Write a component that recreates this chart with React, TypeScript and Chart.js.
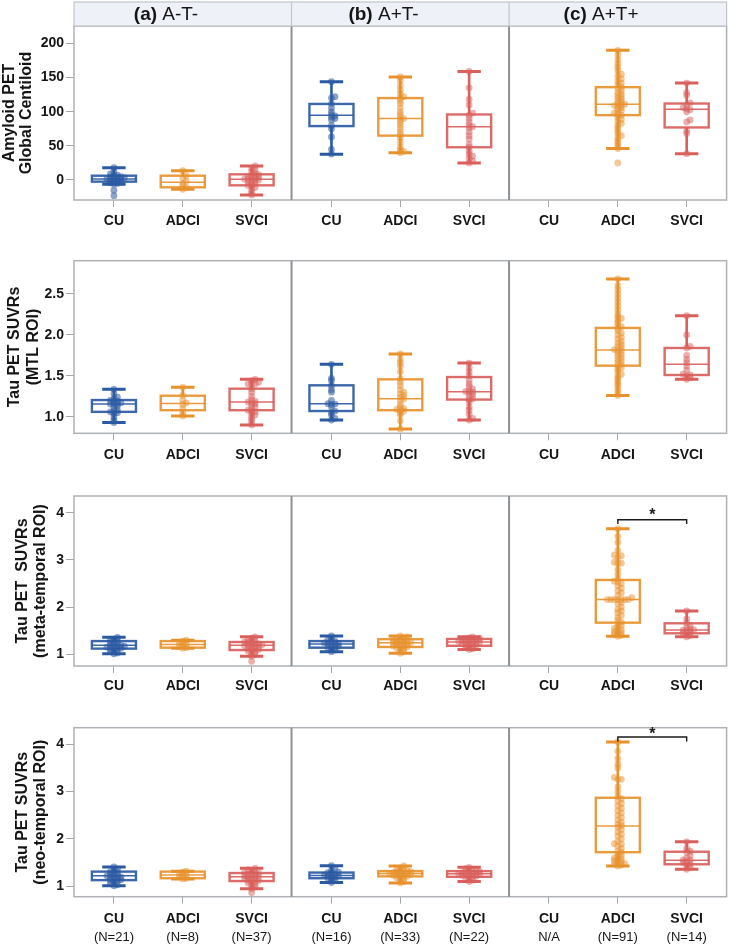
import { useEffect, useRef } from "react";
import { Chart, registerables } from "chart.js";

Chart.register(...registerables);

const FONT = "'Liberation Sans', Arial, Helvetica, sans-serif";
const INK = "#151515";

const categories = ["CU", "ADCI", "SVCI"];
const panelLetters = ["(a)", "(b)", "(c)"];
const panelGroups = ["A-T-", "A+T-", "A+T+"];
const sampleSizes = ["(N=21)", "(N=8)", "(N=37)", "(N=16)", "(N=33)", "(N=22)", "N/A", "(N=91)", "(N=14)"];

// [panel, category] slot of each plotted group (no CU group in panel c)
const groupSlots = [[0, 0], [0, 1], [0, 2], [1, 0], [1, 1], [1, 2], [2, 1], [2, 2]];

// ---- Amyloid PET, global centiloid ----
// box summaries: [lower whisker, Q1, median, Q3, upper whisker]
const centiloidBoxes = [
  [-6.3, -2.4, 1.5, 6.3, 18], [-13.7, -10.7, -3.4, 6.3, 13.7], [-22, -7.8, 1, 8.3, 20.5],
  [37.6, 79, 94.8, 111.4, 144], [40, 65, 90, 120, 151], [25, 48, 78, 96, 159],
  [46, 95, 111, 136, 190], [38.5, 77, 103.5, 112, 142],
];
const centiloidA_CU = [18, 12, 9, 7, 6, 5, 4, 3, 3, 2, 1.5, 1, 0, -1, -2, -3, -4, -5, -6, -15, -23];
const centiloidA_ADCI = [13.7, 6, 3, -2, -5, -9, -11, -13.7];
const centiloidA_SVCI = [20.5, 17, 15, 12, 10, 8, 7, 6, 5, 4, 3, 2, 1.5, 1, 0, -1, -2, -3, -5, -6, -8, -9, -11, -14, -18, -22];
const centiloidB_CU = [144, 122, 120, 112, 106, 100, 96, 94, 92, 90, 88, 80, 75, 63, 45, 38];
const centiloidB_ADCI = [151, 145, 138, 132, 126, 122, 120, 116, 112, 106, 100, 96, 92, 90, 88, 84, 80, 75, 70, 66, 62, 55, 48, 44, 42, 40];
const centiloidB_SVCI = [159, 135, 118, 110, 98, 95, 90, 85, 80, 78, 76, 70, 65, 60, 52, 48, 42, 38, 35, 32, 28, 25];
const centiloidC_ADCI = [190, 183, 176, 170, 165, 160, 155, 152, 148, 145, 142, 139, 136, 134, 131, 128, 126, 124, 122, 120, 118, 116, 114, 112, 111, 110, 109, 108, 106, 104, 102, 100, 98, 96, 95, 92, 89, 86, 83, 80, 76, 72, 68, 65, 62, 58, 54, 50, 46, 25];
const centiloidC_SVCI = [142, 128, 124, 113, 110, 106, 104, 103, 100, 88, 85, 72, 68, 38.5];

// ---- Tau PET SUVR, MTL ROI ----
const mtlBoxes = [
  [0.93, 1.06, 1.155, 1.204, 1.335], [1.008, 1.08, 1.163, 1.257, 1.36], [0.9, 1.08, 1.18, 1.343, 1.457],
  [0.96, 1.07, 1.159, 1.384, 1.64], [0.85, 1.08, 1.22, 1.457, 1.767], [0.96, 1.21, 1.306, 1.485, 1.656],
  [1.26, 1.624, 1.815, 2.085, 2.683], [1.457, 1.51, 1.64, 1.84, 2.235],
];
const mtlA_CU = [1.335, 1.28, 1.24, 1.22, 1.2, 1.19, 1.18, 1.17, 1.16, 1.155, 1.15, 1.13, 1.11, 1.08, 1.07, 1.06, 1.05, 1.04, 1.0, 0.96, 0.93];
const mtlA_ADCI = [1.36, 1.26, 1.2, 1.17, 1.15, 1.1, 1.05, 1.008];
const mtlA_SVCI = [1.457, 1.44, 1.42, 1.4, 1.4, 1.4, 1.34, 1.3, 1.25, 1.21, 1.19, 1.18, 1.17, 1.16, 1.14, 1.12, 1.1, 1.08, 1.07, 1.06, 1.04, 1.02, 1.0, 0.97, 0.94, 0.9];
const mtlB_CU = [1.64, 1.47, 1.44, 1.38, 1.33, 1.3, 1.2, 1.16, 1.155, 1.15, 1.12, 1.07, 1.05, 1.02, 0.98, 0.96];
const mtlB_ADCI = [1.767, 1.7, 1.66, 1.62, 1.55, 1.46, 1.42, 1.38, 1.33, 1.3, 1.28, 1.26, 1.24, 1.22, 1.2, 1.15, 1.12, 1.1, 1.09, 1.08, 1.07, 1.05, 1.02, 0.95, 0.85];
const mtlB_SVCI = [1.656, 1.6, 1.55, 1.5, 1.45, 1.4, 1.37, 1.34, 1.32, 1.31, 1.3, 1.29, 1.27, 1.25, 1.22, 1.21, 1.18, 1.12, 1.08, 1.03, 0.98, 0.96];
const mtlC_ADCI = [2.683, 2.6, 2.55, 2.5, 2.45, 2.4, 2.35, 2.3, 2.25, 2.22, 2.2, 2.18, 2.15, 2.12, 2.1, 2.08, 2.05, 2.02, 2.0, 1.97, 1.95, 1.92, 1.9, 1.88, 1.86, 1.84, 1.82, 1.815, 1.8, 1.78, 1.76, 1.74, 1.72, 1.7, 1.68, 1.66, 1.64, 1.62, 1.6, 1.58, 1.55, 1.52, 1.5, 1.47, 1.44, 1.41, 1.38, 1.34, 1.3, 1.26];
const mtlC_SVCI = [2.235, 2.0, 1.86, 1.84, 1.75, 1.7, 1.66, 1.62, 1.57, 1.52, 1.51, 1.5, 1.48, 1.457];

// ---- Tau PET SUVR, meta-temporal ROI ----
const metaBoxes = [
  [1.01, 1.12, 1.19, 1.28, 1.36], [1.13, 1.14, 1.21, 1.28, 1.3], [0.96, 1.09, 1.19, 1.26, 1.37],
  [1.055, 1.14, 1.22, 1.28, 1.39], [1.02, 1.155, 1.245, 1.32, 1.39], [1.1, 1.18, 1.26, 1.325, 1.37],
  [1.38, 1.67, 2.16, 2.575, 3.66], [1.37, 1.445, 1.515, 1.657, 1.92],
];
const metaA_CU = [1.36, 1.32, 1.3, 1.28, 1.26, 1.24, 1.22, 1.2, 1.19, 1.18, 1.17, 1.16, 1.15, 1.14, 1.13, 1.12, 1.1, 1.08, 1.06, 1.03, 1.01];
const metaA_ADCI = [1.3, 1.28, 1.25, 1.22, 1.2, 1.17, 1.14, 1.13];
const metaA_SVCI = [1.37, 1.34, 1.31, 1.29, 1.27, 1.26, 1.25, 1.23, 1.22, 1.21, 1.2, 1.19, 1.18, 1.17, 1.16, 1.15, 1.13, 1.11, 1.1, 1.09, 1.07, 1.05, 1.02, 0.99, 0.96, 0.85];
const metaB_CU = [1.39, 1.33, 1.3, 1.28, 1.26, 1.24, 1.23, 1.22, 1.21, 1.19, 1.17, 1.15, 1.14, 1.12, 1.09, 1.055];
const metaB_ADCI = [1.39, 1.37, 1.35, 1.33, 1.32, 1.3, 1.29, 1.28, 1.27, 1.26, 1.25, 1.24, 1.23, 1.22, 1.21, 1.2, 1.18, 1.17, 1.16, 1.15, 1.13, 1.11, 1.08, 1.05, 1.02];
const metaB_SVCI = [1.37, 1.35, 1.33, 1.32, 1.31, 1.3, 1.29, 1.28, 1.27, 1.26, 1.26, 1.25, 1.24, 1.23, 1.22, 1.2, 1.19, 1.18, 1.16, 1.14, 1.12, 1.1];
const metaC_ADCI = [3.66, 3.5, 3.37, 3.2, 3.1, 3.09, 3.05, 2.95, 2.93, 2.93, 2.8, 2.7, 2.6, 2.55, 2.53, 2.5, 2.45, 2.4, 2.35, 2.3, 2.25, 2.2, 2.16, 2.16, 2.16, 2.16, 2.16, 2.16, 2.16, 2.1, 2.07, 2.0, 1.95, 1.92, 1.88, 1.82, 1.78, 1.72, 1.68, 1.64, 1.61, 1.58, 1.55, 1.52, 1.5, 1.48, 1.46, 1.44, 1.42, 1.4, 1.38];
const metaC_SVCI = [1.92, 1.75, 1.66, 1.6, 1.56, 1.53, 1.52, 1.51, 1.5, 1.47, 1.45, 1.43, 1.4, 1.37];
// significance bracket: [bar level, leg ends, star level]
const metaBracket = [3.85, 3.76, 4.0];

// ---- Tau PET SUVR, neo-temporal ROI ----
const neoBoxes = [
  [1.01, 1.13, 1.22, 1.31, 1.41], [1.155, 1.17, 1.24, 1.31, 1.32], [0.95, 1.11, 1.2, 1.28, 1.38],
  [1.08, 1.17, 1.23, 1.29, 1.435], [1.07, 1.21, 1.27, 1.32, 1.43], [1.1, 1.2, 1.265, 1.32, 1.4],
  [1.43, 1.72, 2.275, 2.87, 4.05], [1.36, 1.465, 1.55, 1.73, 1.94],
];
const neoA_CU = [1.41, 1.36, 1.33, 1.31, 1.29, 1.27, 1.25, 1.23, 1.22, 1.21, 1.2, 1.19, 1.17, 1.15, 1.14, 1.13, 1.11, 1.09, 1.06, 1.03, 1.01];
const neoA_ADCI = [1.32, 1.3, 1.27, 1.25, 1.23, 1.2, 1.17, 1.155];
const neoA_SVCI = [1.38, 1.35, 1.33, 1.31, 1.29, 1.28, 1.27, 1.25, 1.24, 1.22, 1.21, 1.2, 1.19, 1.18, 1.16, 1.15, 1.13, 1.12, 1.11, 1.09, 1.07, 1.05, 1.02, 0.99, 0.95, 0.865];
const neoB_CU = [1.435, 1.38, 1.33, 1.3, 1.29, 1.27, 1.25, 1.24, 1.23, 1.22, 1.21, 1.19, 1.17, 1.15, 1.12, 1.08];
const neoB_ADCI = [1.43, 1.39, 1.36, 1.34, 1.33, 1.32, 1.31, 1.3, 1.29, 1.28, 1.27, 1.27, 1.26, 1.25, 1.24, 1.23, 1.22, 1.21, 1.2, 1.18, 1.16, 1.13, 1.1, 1.07];
const neoB_SVCI = [1.4, 1.37, 1.34, 1.33, 1.32, 1.31, 1.3, 1.29, 1.28, 1.27, 1.265, 1.26, 1.25, 1.24, 1.23, 1.22, 1.21, 1.2, 1.18, 1.16, 1.13, 1.1];
const neoC_ADCI = [4.05, 3.85, 3.7, 3.58, 3.5, 3.3, 3.26, 3.26, 3.1, 3.0, 2.9, 2.85, 2.8, 2.75, 2.7, 2.65, 2.6, 2.55, 2.5, 2.45, 2.4, 2.35, 2.31, 2.28, 2.25, 2.2, 2.15, 2.1, 2.06, 2.0, 1.95, 1.9, 1.89, 1.85, 1.8, 1.75, 1.72, 1.68, 1.65, 1.62, 1.6, 1.58, 1.56, 1.54, 1.52, 1.5, 1.48, 1.47, 1.45, 1.43];
const neoC_SVCI = [1.94, 1.8, 1.74, 1.72, 1.65, 1.6, 1.56, 1.55, 1.52, 1.5, 1.47, 1.45, 1.4, 1.36];
const neoBracket = [4.155, 4.06, 4.26];

const categoryColors = [
  { line: "#2b5aa3", point: "rgba(43,90,163,0.55)" },
  { line: "#e8922e", point: "rgba(232,146,46,0.5)" },
  { line: "#d9605c", point: "rgba(217,96,92,0.5)" },
];

// horizontal layout of the shared category axis
const PANEL_SPAN = 3.16;
const X_MIN = -0.58;
const X_MAX = X_MIN + 3 * PANEL_SPAN;
const CANVAS_W = 730;
const AXIS_W = 74;
const PAD_RIGHT = 2;
const PX_PER_X = (CANVAS_W - AXIS_W - PAD_RIGHT) / (X_MAX - X_MIN);
const tickPositions = [0, 1, 2].flatMap((p) => [0, 1, 2].map((c) => p * PANEL_SPAN + c));
const BOX_HALF = 0.32;
const CAP_HALF = 0.17;

type RowSpec = {
  title: string[];
  yMin: number;
  yMax: number;
  yTicks: number[];
  decimals: number;
  boxes: number[][];
  points: number[][];
  bracket: number[] | null;
  top: number;
  height: number;
  padTop: number;
  axisH: number;
  sizeAxisH: number;
  labelPad: number;
  titlePad: number;
  titleLine: number;
  header: boolean;
};

const rows: RowSpec[] = [
  {
    title: ["Amyloid PET", "Global Centiloid"], yMin: -29.3, yMax: 225.6, yTicks: [0, 50, 100, 150, 200], decimals: 0,
    boxes: centiloidBoxes,
    points: [centiloidA_CU, centiloidA_ADCI, centiloidA_SVCI, centiloidB_CU, centiloidB_ADCI, centiloidB_SVCI, centiloidC_ADCI, centiloidC_SVCI],
    bracket: null, top: 0, height: 230, padTop: 26, axisH: 30, sizeAxisH: 0, labelPad: 6, titlePad: 0.5, titleLine: 1.08, header: true,
  },
  {
    title: ["Tau PET SUVRs", "(MTL ROI)"], yMin: 0.798, yMax: 2.906, yTicks: [1.0, 1.5, 2.0, 2.5], decimals: 1,
    boxes: mtlBoxes,
    points: [mtlA_CU, mtlA_ADCI, mtlA_SVCI, mtlB_CU, mtlB_ADCI, mtlB_SVCI, mtlC_ADCI, mtlC_SVCI],
    bracket: null, top: 230, height: 230, padTop: 30.7, axisH: 26.7, sizeAxisH: 0, labelPad: 6, titlePad: 5, titleLine: 1.18, header: false,
  },
  {
    title: ["Tau PET  SUVRs", "(meta-temporal ROI)"], yMin: 0.752, yMax: 4.354, yTicks: [1, 2, 3, 4], decimals: 0,
    boxes: metaBoxes,
    points: [metaA_CU, metaA_ADCI, metaA_SVCI, metaB_CU, metaB_ADCI, metaB_SVCI, metaC_ADCI, metaC_SVCI],
    bracket: metaBracket, top: 460, height: 230, padTop: 36, axisH: 24, sizeAxisH: 0, labelPad: 5, titlePad: 13.5, titleLine: 1.13, header: false,
  },
  {
    title: ["Tau PET SUVRs", "(neo-temporal ROI)"], yMin: 0.78, yMax: 4.35, yTicks: [1, 2, 3, 4], decimals: 0,
    boxes: neoBoxes,
    points: [neoA_CU, neoA_ADCI, neoA_SVCI, neoB_CU, neoB_ADCI, neoB_SVCI, neoC_ADCI, neoC_SVCI],
    bracket: neoBracket, top: 690, height: 255, padTop: 37.7, axisH: 26, sizeAxisH: 22.3, labelPad: 7, titlePad: 13.2, titleLine: 1.13, header: false,
  },
];

// Deterministic beeswarm: points that would sit almost on top of each other are nudged sideways.
const SWARM_GAP = 2.4;
const SWARM_STEP = 3.5;
function swarm(values: number[], pxPerY: number, center: number) {
  const order = values.map((_, i) => i).sort((a, b) => values[a] - values[b]);
  const placed: { x: number; y: number }[] = [];
  const out: { x: number; y: number }[] = new Array(values.length);
  for (const i of order) {
    const y = values[i] * pxPerY;
    let dx = 0;
    for (let step = 0; step < 40; step++) {
      dx = step === 0 ? 0 : (step % 2 ? 1 : -1) * Math.ceil(step / 2) * SWARM_STEP;
      const free = placed.every((p) => (p.x - dx) ** 2 + (p.y - y) ** 2 >= SWARM_GAP ** 2);
      if (free) break;
    }
    placed.push({ x: dx, y });
    out[i] = { x: center + dx / PX_PER_X, y: values[i] };
  }
  return out;
}

function makeRowPlugin(row: RowSpec) {
  return {
    id: "panelDecor",
    beforeDatasetsDraw(chart: any) {
      const { ctx } = chart;
      const xs = chart.scales.x;
      const ys = chart.scales.y;
      ctx.save();
      row.boxes.forEach((b, g) => {
        const [p, c] = groupSlots[g];
        const cx = p * PANEL_SPAN + c;
        const col = categoryColors[c].line;
        const xc = xs.getPixelForValue(cx);
        const xl = xs.getPixelForValue(cx - BOX_HALF);
        const xr = xs.getPixelForValue(cx + BOX_HALF);
        const cl = xs.getPixelForValue(cx - CAP_HALF);
        const cr = xs.getPixelForValue(cx + CAP_HALF);
        const [lo, q1, med, q3, hi] = b.map((v) => ys.getPixelForValue(v));
        ctx.strokeStyle = col;
        ctx.lineCap = "butt";
        // whiskers
        ctx.lineWidth = 2.6;
        ctx.beginPath();
        ctx.moveTo(xc, q1);
        ctx.lineTo(xc, lo);
        ctx.moveTo(xc, q3);
        ctx.lineTo(xc, hi);
        ctx.stroke();
        ctx.lineWidth = 3;
        ctx.beginPath();
        ctx.moveTo(cl, lo);
        ctx.lineTo(cr, lo);
        ctx.moveTo(cl, hi);
        ctx.lineTo(cr, hi);
        ctx.stroke();
        // box
        ctx.globalAlpha = 0.92;
        ctx.lineWidth = 2.4;
        ctx.strokeRect(xl, q3, xr - xl, q1 - q3);
        ctx.lineWidth = 1.5;
        ctx.beginPath();
        ctx.moveTo(xl, med);
        ctx.lineTo(xr, med);
        ctx.stroke();
        ctx.globalAlpha = 1;
      });
      ctx.restore();
    },
    afterDraw(chart: any) {
      const { ctx, chartArea } = chart;
      const xs = chart.scales.x;
      const ys = chart.scales.y;
      const { left, right, top, bottom } = chartArea;
      const dividers = [1, 2].map((k) => xs.getPixelForValue(X_MIN + k * PANEL_SPAN));
      ctx.save();
      // panel frames
      ctx.strokeStyle = "#aeb2b6";
      ctx.lineWidth = 1.5;
      ctx.strokeRect(left, top, right - left, bottom - top);
      ctx.strokeStyle = "#8d9195";
      ctx.lineWidth = 2;
      ctx.beginPath();
      dividers.forEach((d) => {
        ctx.moveTo(d, top);
        ctx.lineTo(d, bottom);
      });
      ctx.stroke();

      // facet header strip
      if (row.header) {
        const hTop = 2;
        ctx.fillStyle = "#eef1f8";
        ctx.fillRect(left, hTop, right - left, top - hTop);
        ctx.strokeStyle = "#c2c6ca";
        ctx.lineWidth = 1.2;
        ctx.strokeRect(left, hTop, right - left, top - hTop);
        ctx.beginPath();
        dividers.forEach((d) => {
          ctx.moveTo(d, hTop);
          ctx.lineTo(d, top);
        });
        ctx.stroke();
        const edges = [left, ...dividers];
        ctx.fillStyle = INK;
        ctx.textBaseline = "middle";
        ctx.textAlign = "left";
        panelLetters.forEach((letter, i) => {
          const boldFont = `bold 19px ${FONT}`;
          const plainFont = `19px ${FONT}`;
          ctx.font = boldFont;
          const w1 = ctx.measureText(letter + " ").width;
          ctx.font = plainFont;
          const w2 = ctx.measureText(panelGroups[i]).width;
          const start = edges[i] + 92 - (w1 + w2) / 2;
          ctx.font = boldFont;
          ctx.fillText(letter, start, 14.5);
          ctx.font = plainFont;
          ctx.fillText(panelGroups[i], start + w1, 14.5);
        });
      }

      // significance bracket between ADCI and SVCI of panel c
      if (row.bracket) {
        const [bar, leg, star] = row.bracket;
        const x1 = xs.getPixelForValue(2 * PANEL_SPAN + 1);
        const x2 = xs.getPixelForValue(2 * PANEL_SPAN + 2);
        const yb = ys.getPixelForValue(bar);
        const yl = ys.getPixelForValue(leg);
        ctx.strokeStyle = "#1a1a1a";
        ctx.lineWidth = 1.4;
        ctx.beginPath();
        ctx.moveTo(x1, yl);
        ctx.lineTo(x1, yb);
        ctx.lineTo(x2, yb);
        ctx.lineTo(x2, yl);
        ctx.stroke();
        ctx.fillStyle = "#1a1a1a";
        ctx.font = `bold 16px ${FONT}`;
        ctx.textAlign = "center";
        ctx.textBaseline = "middle";
        ctx.fillText("*", (x1 + x2) / 2, ys.getPixelForValue(star) + 3);
      }
      ctx.restore();
    },
  };
}

function RowChart({ row }: { row: RowSpec }) {
  const ref = useRef<HTMLCanvasElement>(null);

  useEffect(() => {
    const canvas = ref.current;
    if (!canvas) return;
    const plotH = row.height - row.padTop - row.axisH - row.sizeAxisH;
    const pxPerY = plotH / (row.yMax - row.yMin);

    const datasets = row.points.map((vals, g) => {
      const [p, c] = groupSlots[g];
      return {
        type: "scatter" as const,
        data: swarm(vals, pxPerY, p * PANEL_SPAN + c),
        backgroundColor: categoryColors[c].point,
        borderWidth: 0,
        pointRadius: 3.4,
        pointHoverRadius: 3.4,
      };
    });

    const tickFont = { family: FONT, size: 14, weight: "bold" as const };
    const scales: any = {
      x: {
        type: "linear",
        position: "bottom",
        weight: 0,
        min: X_MIN,
        max: X_MAX,
        afterBuildTicks: (s: any) => {
          s.ticks = tickPositions.map((v) => ({ value: v }));
        },
        afterFit: (s: any) => {
          s.height = row.axisH;
        },
        ticks: {
          callback: (_v: number, i: number) => categories[i % 3],
          font: tickFont,
          color: INK,
          padding: row.labelPad,
          autoSkip: false,
          maxRotation: 0,
        },
        grid: { drawOnChartArea: false, drawTicks: true, tickLength: 7, color: "#a3a7ab", lineWidth: 1 },
        border: { display: false },
      },
      y: {
        type: "linear",
        min: row.yMin,
        max: row.yMax,
        afterBuildTicks: (s: any) => {
          s.ticks = row.yTicks.map((v) => ({ value: v }));
        },
        afterFit: (s: any) => {
          s.width = AXIS_W;
        },
        ticks: {
          callback: (v: number) => v.toFixed(row.decimals),
          font: tickFont,
          color: INK,
          padding: 2,
        },
        grid: { drawOnChartArea: false, drawTicks: true, tickLength: 8, color: "#a3a7ab", lineWidth: 1 },
        border: { display: false },
        title: {
          display: true,
          text: row.title,
          color: INK,
          font: { family: FONT, size: 16, weight: "bold", lineHeight: row.titleLine },
          padding: { top: row.titlePad, bottom: 0 },
        },
      },
    };
    if (row.sizeAxisH > 0) {
      scales.xN = {
        type: "linear",
        position: "bottom",
        weight: 1,
        min: X_MIN,
        max: X_MAX,
        afterBuildTicks: (s: any) => {
          s.ticks = tickPositions.map((v) => ({ value: v }));
        },
        afterFit: (s: any) => {
          s.height = row.sizeAxisH;
        },
        ticks: {
          callback: (_v: number, i: number) => sampleSizes[i],
          font: { family: FONT, size: 13 },
          color: INK,
          padding: 6.5,
          autoSkip: false,
          maxRotation: 0,
        },
        grid: { display: false, drawTicks: false },
        border: { display: false },
      };
    }

    const chart = new Chart(canvas, {
      type: "scatter",
      data: { datasets },
      options: {
        responsive: false,
        animation: false,
        devicePixelRatio: 1,
        events: [],
        layout: { padding: { top: row.padTop, right: PAD_RIGHT, left: 0, bottom: 0 } },
        plugins: { legend: { display: false }, tooltip: { enabled: false } },
        scales,
      },
      plugins: [makeRowPlugin(row)],
    } as any);

    return () => chart.destroy();
  }, [row]);

  return (
    <canvas
      ref={ref}
      width={CANVAS_W}
      height={row.height}
      style={{ position: "absolute", left: 0, top: row.top, width: CANVAS_W, height: row.height }}
    />
  );
}

export default function App() {
  return (
    <div style={{ position: "absolute", left: 0, top: 0, width: CANVAS_W, height: 945, background: "#ffffff" }}>
      {rows.map((row, i) => (
        <RowChart key={i} row={row} />
      ))}
    </div>
  );
}
